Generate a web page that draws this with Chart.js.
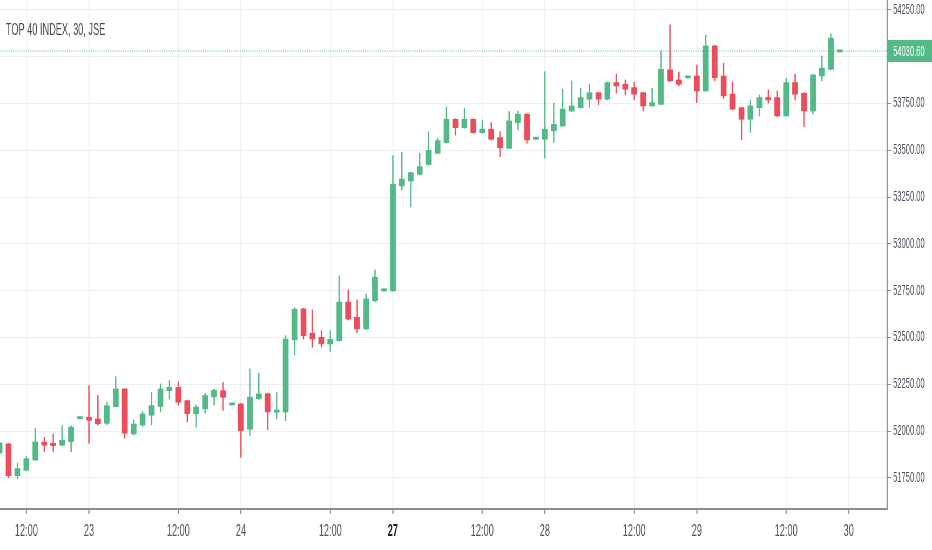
<!DOCTYPE html>
<html lang="en">
<head>
  <meta charset="UTF-8">
  <title>TOP 40 INDEX, 30, JSE</title>
  <style>
    html, body { margin: 0; padding: 0; background: #fff; overflow: hidden; }
  </style>
</head>
<body>

<!-- drawn wide and shown squeezed, like the reference screenshot -->
<canvas id="chart" width="1726" height="550" style="width:932px;height:550px"></canvas>

<script src="https://cdn.jsdelivr.net/npm/chart.js"></script>

<script>
  const titleText = 'TOP 40 INDEX, 30, JSE';

  // 30 min bars, index 0 = 22nd 07:00, 17 bars a session (07:00 - 15:00)
  const firstBar = 7;
  const opens = [
    51883, 51932, 51762, 51791, 51846, 51941, 51935, 51925, 51944, 52067,
    52074, 52065, 52042, 52131, 52225, 51985, 52033, 52085, 52131, 52216,
    52234, 52163, 52093, 52119, 52183, 52216, 52140, 52145, 52010, 52174,
    52200, 52101, 52102, 52487, 52653, 52523, 52501, 52466, 52483, 52689,
    52608, 52546, 52697, 52749, 52749, 53310, 53336, 53372, 53424, 53484,
    53541, 53666, 53621, 53666, 53594, 53613, 53568, 53511, 53648, 53693,
    53559, 53559, 53604, 53630, 53710, 53728, 53773, 53808, 53773, 53862,
    53853, 53835, 53808, 53737, 53746, 53930, 53876, 53887, 53897, 53817,
    54058, 53897, 53800, 53728, 53666, 53728, 53782, 53782, 53684, 53862,
    53805, 53710, 53897, 53933, 54026
  ];
  const highs = [
    51945, 51935, 51830, 51864, 52015, 51967, 51985, 52029, 52028, 52080,
    52243, 52190, 52154, 52291, 52228, 52060, 52104, 52207, 52252, 52270,
    52264, 52166, 52140, 52202, 52225, 52261, 52150, 52148, 52332, 52309,
    52203, 52207, 52510, 52660, 52656, 52647, 52537, 52537, 52829, 52754,
    52701, 52733, 52861, 52762, 53472, 53490, 53384, 53484, 53600, 53565,
    53733, 53669, 53725, 53669, 53662, 53648, 53600, 53707, 53710, 53696,
    53572, 53920, 53752, 53826, 53871, 53832, 53853, 53810, 53865, 53908,
    53876, 53864, 53810, 53832, 54031, 54170, 53917, 53898, 53956, 54116,
    54060, 53965, 53867, 53730, 53769, 53796, 53823, 53817, 53885, 53907,
    53808, 53905, 54004, 54122, 54036
  ];
  const lows = [
    51875, 51750, 51745, 51788, 51843, 51890, 51890, 51920, 51890, 52064,
    51935, 52033, 52033, 52131, 51962, 51980, 52024, 52033, 52104, 52170,
    52140, 52049, 52021, 52095, 52140, 52110, 52138, 51860, 51976, 52170,
    52007, 52065, 52056, 52407, 52492, 52448, 52448, 52425, 52480, 52594,
    52526, 52541, 52692, 52747, 52747, 53288, 53199, 53369, 53420, 53481,
    53538, 53582, 53618, 53591, 53591, 53555, 53466, 53511, 53609, 53538,
    53557, 53458, 53541, 53627, 53707, 53725, 53730, 53743, 53770, 53805,
    53796, 53769, 53710, 53737, 53744, 53867, 53844, 53885, 53755, 53815,
    53871, 53778, 53716, 53556, 53595, 53684, 53752, 53680, 53682, 53769,
    53627, 53694, 53871, 53930, 54024
  ];
  const closes = [
    51937, 51762, 51800, 51853, 51942, 51925, 51923, 51951, 52021, 52076,
    52058, 52040, 52136, 52225, 51989, 52038, 52092, 52136, 52225, 52234,
    52154, 52093, 52128, 52190, 52218, 52181, 52149, 52003, 52181, 52199,
    52102, 52113, 52492, 52651, 52510, 52492, 52466, 52491, 52689, 52599,
    52546, 52706, 52822, 52760, 53319, 53346, 53381, 53413, 53500, 53552,
    53666, 53621, 53666, 53594, 53613, 53559, 53514, 53657, 53693, 53555,
    53570, 53613, 53639, 53720, 53737, 53782, 53808, 53773, 53862, 53844,
    53826, 53800, 53737, 53755, 53933, 53871, 53853, 53896, 53817, 54058,
    53888, 53791, 53720, 53666, 53737, 53782, 53769, 53684, 53862, 53800,
    53710, 53903, 53939, 54099, 54030.60
  ];

  const tickBars = [10, 17, 27, 34, 44, 51, 61, 68, 78, 85, 95, 102];
  const tickLabels = ['12:00', '23', '12:00', '24', '12:00', '27', '12:00', '28', '12:00', '29', '12:00', '30'];
  const priceTicks = [51750, 52000, 52250, 52500, 52750, 53000, 53250, 53500, 53750, 54000, 54250];
  const lastPrice = 54030.60;

  const xMin = 7.05, xMax = 106.3;
  const yMin = 51584, yMax = 54303;

  const up = '#53b987';
  const down = '#eb4d5c';
  const axisColor = '#8a8d94';
  const gridColor = '#eceef2';
  const font = '"Liberation Sans", Arial, sans-serif';

  const colors = opens.map((o, k) => closes[k] >= o ? up : down);
  const bodies = opens.map((o, k) => ({x: firstBar + k, y: [o, closes[k]]}));
  const wicks = opens.map((o, k) => ({x: firstBar + k, y: [lows[k], highs[k]]}));

  const overlay = {
    id: 'overlay',
    afterDraw(chart) {
      const c = chart.ctx;
      const area = chart.chartArea;
      c.save();
      // title
      c.font = '17px ' + font;
      c.fillStyle = '#4a4a4a';
      c.textBaseline = 'alphabetic';
      c.fillText(titleText, 11, 35);
      // last price tag on the axis
      const y = chart.scales.y.getPixelForValue(lastPrice);
      c.fillStyle = up;
      c.fillRect(area.right, y - 11, chart.width - area.right, 22);
      c.fillStyle = '#ffffff';
      c.font = '14px ' + font;
      c.textBaseline = 'middle';
      c.fillText(lastPrice.toFixed(2), area.right + 11, y + 1);
      c.restore();
    }
  };

  const ctx = document.getElementById('chart').getContext('2d');
  const chart = new Chart(ctx, {
    type: 'bar',
    data: {
      datasets: [
        {
          label: 'body',
          data: bodies,
          backgroundColor: colors,
          barThickness: 10,
          minBarLength: 2,
          grouped: false,
          order: 0
        },
        {
          label: 'wick',
          data: wicks,
          backgroundColor: colors,
          barThickness: 1.8,
          grouped: false,
          order: 1
        },
        {
          type: 'line',
          label: 'last',
          data: [{x: xMin, y: lastPrice}, {x: xMax, y: lastPrice}],
          borderColor: 'rgba(83, 185, 135, 0.8)',
          borderWidth: 1,
          borderDash: [2, 2],
          pointRadius: 0,
          order: 2
        }
      ]
    },
    options: {
      responsive: false,
      devicePixelRatio: 1,
      animation: false,
      layout: { padding: 0 },
      plugins: {
        legend: { display: false },
        tooltip: { enabled: false }
      },
      scales: {
        x: {
          type: 'linear',
          min: xMin,
          max: xMax,
          offset: false,
          afterBuildTicks: s => { s.ticks = tickBars.map(v => ({value: v})); },
          afterFit: s => { s.height = 41; s.paddingLeft = 0; s.paddingRight = 0; },
          grid: { offset: false, color: gridColor, lineWidth: 1.5, tickColor: axisColor, tickLength: 5, tickWidth: 2 },
          border: { color: axisColor, width: 2 },
          ticks: {
            autoSkip: false,
            maxRotation: 0,
            padding: 7,
            callback: v => tickLabels[tickBars.indexOf(v)],
            color: c => tickLabels[c.index] === '27' ? '#222222' : '#50535e',
            font: c => ({family: font, size: 17, weight: tickLabels[c.index] === '27' ? 'bold' : 'normal'})
          }
        },
        y: {
          type: 'linear',
          position: 'right',
          min: yMin,
          max: yMax,
          afterBuildTicks: s => { s.ticks = priceTicks.map(v => ({value: v})); },
          afterFit: s => { s.width = 83; s.paddingTop = 0; s.paddingBottom = 0; },
          grid: { color: gridColor, tickColor: axisColor, tickLength: 7 },
          border: { color: axisColor, width: 2 },
          ticks: {
            padding: 4,
            color: '#50535e',
            font: {family: font, size: 14},
            callback: v => v.toFixed(2)
          }
        }
      }
    },
    plugins: [overlay]
  });
</script>
</body>
</html>
